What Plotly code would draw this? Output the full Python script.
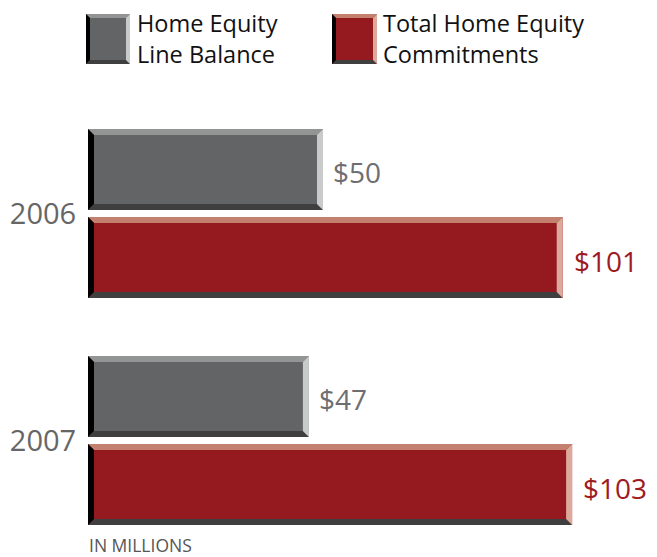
import plotly.graph_objects as go

years = ["2006", "2007"]
line_balance = [50, 47]
commitments = [101, 103]
series_names = ["Home Equity<br>Line Balance", "Total Home Equity<br>Commitments"]
value_labels_gray = ["$50", "$47"]
value_labels_red = ["$101", "$103"]
footnote = "IN MILLIONS"

W, H = 657, 557
ML, MR, MT, MB = 88, 0, 100, 3
PW, PH = W - ML - MR, H - MT - MB
XMAX = 121.06
px_per_x = PW / XMAX
px_per_y = PH / 2.0

GRAY = dict(face="#636466", top="#939494", right="#c9caca", bottom="#3f3f40", left="#000000")
RED = dict(face="#951a1f", top="#c4806f", right="#dcaa9c", bottom="#3f3f40", left="#000000")
FONT = "Open Sans, Noto Sans, DejaVu Sans, sans-serif"

BAR_W = 81 / px_per_y
GRAY_OFF = -84.5 / px_per_y
RED_OFF = 3.5 / px_per_y

fig = go.Figure()
ypos = list(range(len(years)))
fig.add_trace(go.Bar(orientation="h", y=ypos, x=line_balance, width=BAR_W, offset=GRAY_OFF,
                     marker=dict(color=GRAY["face"], line=dict(width=0)), showlegend=False, hoverinfo="skip"))
fig.add_trace(go.Bar(orientation="h", y=ypos, x=commitments, width=BAR_W, offset=RED_OFF,
                     marker=dict(color=RED["face"], line=dict(width=0)), showlegend=False, hoverinfo="skip"))

shapes = []


def bevel(x0, x1, y0, y1, bx, by, col, xref, yref):
    # y0 = visual top, y1 = visual bottom (in given coordinate system)
    polys = [
        ("top", [(x0, y0), (x1, y0), (x1 - bx, y0 + by), (x0 + bx, y0 + by)]),
        ("bottom", [(x0, y1), (x1, y1), (x1 - bx, y1 - by), (x0 + bx, y1 - by)]),
        ("right", [(x1, y0), (x1, y1), (x1 - bx, y1 - by), (x1 - bx, y0 + by)]),
        ("left", [(x0, y0), (x0, y1), (x0 + bx, y1 - by), (x0 + bx, y0 + by)]),
    ]
    for key, pts in polys:
        path = "M " + " L ".join(f"{a},{b}" for a, b in pts) + " Z"
        shapes.append(dict(type="path", path=path, xref=xref, yref=yref,
                           fillcolor=col[key], line=dict(width=0), layer="above"))


bx = 6 / px_per_x
by = 6 / px_per_y
for i, y in enumerate(ypos):
    bevel(0, line_balance[i], y + GRAY_OFF, y + GRAY_OFF + BAR_W, bx, by, GRAY, "x", "y")
    bevel(0, commitments[i], y + RED_OFF, y + RED_OFF + BAR_W, bx, by, RED, "x", "y")


def paper(px, py):
    return (px - ML) / PW, (H - MB - py) / PH


# legend swatches (paper coordinates)
for (sx0, sx1), col in [((86, 130), GRAY), ((332, 377), RED)]:
    ax0, ay0 = paper(sx0, 14)
    ax1, ay1 = paper(sx1, 64)
    shapes.append(dict(type="rect", xref="paper", yref="paper", x0=ax0, x1=ax1, y0=ay1, y1=ay0,
                       fillcolor=col["face"], line=dict(width=0)))
    bevel(ax0, ax1, ay0, ay1, 4 / PW, -4 / PH, col, "paper", "paper")

annotations = []
for i, y in enumerate(ypos):
    annotations.append(dict(x=line_balance[i], y=y + GRAY_OFF + BAR_W / 2, xref="x", yref="y",
                            text=value_labels_gray[i], showarrow=False, xanchor="left", yanchor="middle",
                            xshift=8, yshift=-2, font=dict(family=FONT, size=28, color="#6d6e71")))
    annotations.append(dict(x=commitments[i], y=y + RED_OFF + BAR_W / 2, xref="x", yref="y",
                            text=value_labels_red[i], showarrow=False, xanchor="left", yanchor="middle",
                            xshift=9, yshift=-3, font=dict(family=FONT, size=28, color="#9e1b22")))

for tx, name in [(135, series_names[0]), (381, series_names[1])]:
    ax, ay = paper(tx, 38)
    annotations.append(dict(x=ax, y=ay, xref="paper", yref="paper", text=name, showarrow=False,
                            xanchor="left", yanchor="middle", align="left",
                            font=dict(family=FONT, size=23.5, color="#111111")))

fx, fy = paper(87, 545)
annotations.append(dict(x=fx, y=fy, xref="paper", yref="paper", text=footnote, showarrow=False,
                        xanchor="left", yanchor="middle",
                        font=dict(family=FONT, size=17.5, color="#555555")))

fig.update_layout(
    width=W, height=H, margin=dict(l=ML, r=MR, t=MT, b=MB),
    paper_bgcolor="white", plot_bgcolor="white",
    barmode="overlay", showlegend=False,
    shapes=shapes, annotations=annotations,
    xaxis=dict(range=[0, XMAX], visible=False, fixedrange=True),
    yaxis=dict(range=[1.5, -0.5], tickvals=ypos, ticktext=years, showgrid=False, zeroline=False,
               showline=False, ticks="outside", ticklen=5, tickcolor="rgba(0,0,0,0)",
               tickfont=dict(family=FONT, size=29, color="#666666"), fixedrange=True),
)

fig.write_html("out.html", config={"displayModeBar": False},
               post_script="document.body.style.margin='0';document.body.style.overflow='hidden';")
